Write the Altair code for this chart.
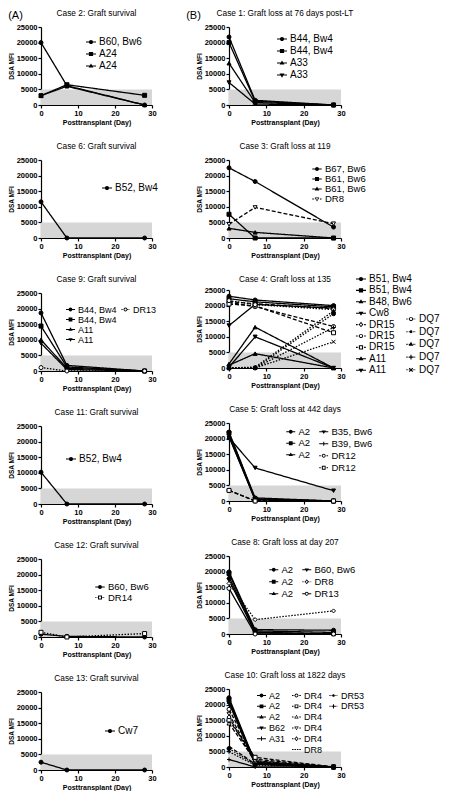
import json
import pandas as pd
import altair as alt

# ------------------------------------------------------------------ data
DAYS = [0, 7, 28]
X_DOMAIN = [0, 30]
Y_DOMAIN = [0, 25000]
X_TICKS = [0, 10, 20, 30]
Y_TICKS = [0, 5000, 10000, 15000, 20000, 25000]
BAND_MFI = [0, 5000]
X_TITLE = "Posttransplant (Day)"
Y_TITLE = "DSA MFI"
COLUMN_TITLES = ["(A)", "(B)"]

C2_TITLE = "Case 2: Graft survival"
C2_LABELS = ["B60, Bw6", "A24", "A24"]
C2_VALUES = [[20000, 6200, 0], [3000, 6500, 3100], [3000, 6000, 0]]

C6_TITLE = "Case 6:  Graft survival"
C6_LABELS = ["B52, Bw4"]
C6_VALUES = [[11600, 0, 0]]

C9_TITLE = "Case 9:  Graft survival"
C9_LABELS = ["B44, Bw4", "B44, Bw4", "A11", "A11", "DR13"]
C9_VALUES = [[18600, 1800, 0], [14400, 1300, 0], [10000, 900, 0], [8900, 500, 0], [1100, 0, 0]]

C11_TITLE = "Case 11: Graft survival"
C11_LABELS = ["B52, Bw4"]
C11_VALUES = [[10200, 0, 0]]

C12_TITLE = "Case 12: Graft survival"
C12_LABELS = ["B60, Bw6", "DR14"]
C12_VALUES = [[900, 200, 0], [1500, 0, 1100]]

C13_TITLE = "Case 13: Graft survival"
C13_LABELS = ["Cw7"]
C13_VALUES = [[2500, 0, 0]]

C1_TITLE = "Case 1: Graft loss at 76 days post-LT"
C1_LABELS = ["B44, Bw4", "B44, Bw4", "A33", "A33"]
C1_VALUES = [[21800, 1500, 0], [20000, 1200, 0], [13400, 800, 0], [7200, 300, 0]]

C3_TITLE = "Case 3:  Graft loss at 119"
C3_LABELS = ["B67, Bw6", "B61, Bw6", "B61, Bw6", "DR8"]
C3_VALUES = [[22500, 18100, 3500], [7600, 0, 0], [3100, 1800, 0], [4400, 9800, 4600]]

C4_TITLE = "Case 4:  Graft loss at 135"
C4_LABELS = ["B51, Bw4", "B51, Bw4", "B48, Bw6", "Cw8", "DR15", "DR15", "DR15",
             "A11", "A11", "DQ7", "DQ7", "DQ7", "DQ7", "DQ7"]
C4_VALUES = [[23000, 21800, 20000], [22200, 21200, 19600], [900, 4600, 0],
             [13600, 20400, 19200], [21300, 20600, 19000], [21000, 19700, 13300],
             [20500, 19900, 11300], [1300, 13100, 0], [300, 10000, 0],
             [21600, 20300, 18700], [0, 0, 17400], [0, 300, 18300], [0, 0, 13000],
             [0, 0, 8400]]

C5_TITLE = "Case 5:  Graft loss at 442 days"
C5_LABELS = ["A2", "A2", "A2", "B35, Bw6", "B39, Bw6", "DR12", "DR12"]
C5_VALUES = [[22100, 1000, 0], [21800, 700, 0], [20600, 500, 0], [20300, 10600, 3300],
             [20800, 300, 0], [3400, 0, 0], [3400, 0, 0]]

C8_TITLE = "Case 8:  Graft loss at day 207"
C8_LABELS = ["A2", "A2", "A2", "B60, Bw6", "DR8", "DR13"]
C8_VALUES = [[19900, 1400, 1200], [19400, 1000, 500], [18300, 600, 0], [17300, 400, 0],
             [16200, 4600, 7400], [14600, 0, 0]]

C10_TITLE = "Case 10:  Graft loss at 1822 days"
C10_LABELS = ["A2", "A2", "A2", "B62", "A31", "DR4", "DR4", "DR4", "DR4", "DR4",
              "DR8", "DR53", "DR53"]
C10_VALUES = [[22200, 1500, 0], [21600, 1200, 0], [21000, 1000, 0], [20500, 900, 0],
              [2400, 0, 0], [18500, 2500, 0], [15000, 3100, 0], [14000, 2000, 0],
              [17000, 1800, 0], [16000, 1400, 0], [6600, 1000, 0], [5900, 800, 0],
              [4900, 600, 0]]

# ------------------------------------------------------------------ styles
S = "solid"; D = "dashed"; O = "dotted"
STYLE = {
    "C2": (["circle", "square", "triangle-up"], [S, S, S]),
    "C6": (["circle"], [S]),
    "C9": (["circle", "square", "triangle-up", "triangle-down", "open-circle"], [S, S, S, S, O]),
    "C11": (["circle"], [S]),
    "C12": (["circle", "open-square"], [S, O]),
    "C13": (["circle"], [S]),
    "C1": (["circle", "square", "triangle-up", "triangle-down"], [S, S, S, S]),
    "C3": (["circle", "square", "triangle-up", "open-triangle-down"], [S, S, S, D]),
    "C4": (["circle", "square", "triangle-up", "triangle-down", "open-diamond", "open-circle",
            "open-square", "triangle-up", "triangle-down", "open-circle", "dot", "triangle-up",
            "plus", "x"], [S, S, S, S, D, D, D, S, S, O, O, O, O, O]),
    "C5": (["circle", "square", "triangle-up", "triangle-down", "plus", "open-circle",
            "open-square"], [S, S, S, S, S, D, D]),
    "C8": (["circle", "square", "triangle-up", "triangle-down", "open-diamond", "open-circle"],
           [S, S, S, S, O, S]),
    "C10": (["circle", "square", "triangle-up", "triangle-down", "plus", "open-circle",
             "open-square", "open-triangle-up", "open-triangle-down", "open-diamond", "none",
             "dot", "plus"], [S, S, S, S, S, D, D, D, D, D, D, O, O]),
}

# legend groups: (members, legendX, legendY, fontSize, symbolSize, rowPadding)
LEGENDS = {
    "C2": [([0, 1, 2], 45, 10, 10, 100, 2)],
    "C6": [([0], 61, 23, 10, 100, 2)],
    "C9": [([0, 1, 2, 3], 25, 12, 9, 81, 0), ([4], 80, 12, 9, 81, 0)],
    "C11": [([0], 25, 28, 10, 100, 2)],
    "C12": [([0, 1], 54, 23, 9.5, 90, 0.5)],
    "C13": [([0], 64, 34, 10, 100, 2)],
    "C1": [([0, 1, 2, 3], 48, 7, 10, 100, 2)],
    "C3": [([0, 1, 2, 3], 83, 4, 9.5, 90, 0)],
    "C4": [(list(range(9)), 127, -16, 10, 100, 1.4), (list(range(9, 14)), 177, 24, 10, 100, 2.7)],
    "C5": [([0, 1, 2], 57, 4, 9.5, 81, 0.5), ([3, 4, 5, 6], 90, 4, 9.5, 81, 1)],
    "C8": [([0, 1, 2], 40, 9, 9.5, 81, 1), ([3, 4, 5], 73, 9, 9.5, 81, 1)],
    "C10": [([0, 1, 2, 3, 4], 28, 2, 9, 81, 0.8), ([5, 6, 7, 8, 9, 10], 63, 2, 9, 81, 0.8),
            ([11, 12], 100, 2, 9, 81, 0.8)],
}
TITLE_OFFSET = {"C4": -9}

FONT = "Liberation Sans"
BAND_COLOR = "#d6d6d6"
DASH = {S: [1, 0], D: [4, 2], O: [1.5, 1.5]}
PT_SHAPE = {"circle": "circle", "dot": "circle", "square": "square",
            "triangle-up": "triangle-up", "triangle-down": "triangle-down",
            "diamond": "diamond", "plus": "M-1,0H1M0,-1V1", "x": "M-1,-1L1,1M-1,1L1,-1",
            "open-circle": "circle", "open-square": "square", "open-diamond": "diamond",
            "open-triangle-up": "triangle-up", "open-triangle-down": "triangle-down",
            "none": "circle"}

# ------------------------------------------------------------------ legend symbol paths
R = 0.42
T = 0.11


def fmt(v):
    s = f"{v:.3f}".rstrip("0").rstrip(".")
    return s if s not in ("-0", "") else "0"


def poly(pts, clockwise=True):
    area = sum(x1 * y2 - x2 * y1 for (x1, y1), (x2, y2) in zip(pts, pts[1:] + pts[:1]))
    if (area > 0) != clockwise:
        pts = pts[::-1]
    return "M" + "L".join(f"{fmt(x)},{fmt(y)}" for x, y in pts) + "Z"


def rect(x0, x1, y0, y1):
    return [(x0, y0), (x1, y0), (x1, y1), (x0, y1)]


def circ(r, clockwise=True):
    s = 1 if clockwise else 0
    return (f"M0,{fmt(-r)}A{fmt(r)},{fmt(r)} 0 1,{s} 0,{fmt(r)}"
            f"A{fmt(r)},{fmt(r)} 0 1,{s} 0,{fmt(-r)}Z")


def shape_pts(kind, r):
    if kind == "square":
        return rect(-r, r, -r, r)
    if kind == "diamond":
        return [(0, -1.3 * r), (1.05 * r, 0), (0, 1.3 * r), (-1.05 * r, 0)]
    if kind == "triangle-up":
        return [(0, -1.25 * r), (1.15 * r, 0.7 * r), (-1.15 * r, 0.7 * r)]
    return [(-1.15 * r, -0.7 * r), (1.15 * r, -0.7 * r), (0, 1.25 * r)]


def marker_path(m):
    if m == "none":
        return "", 0
    is_open = m.startswith("open-")
    kind = m[5:] if is_open else m
    if kind in ("circle", "dot"):
        r = R if kind == "circle" else R * 0.7
        p = circ(r)
        if is_open:
            p += circ(r * 0.55, False)
        return p, (r * 0.9 if is_open else 0)
    if kind == "plus":
        L = R * 1.1
        return poly(rect(-L, L, -T, T)) + poly(rect(-T, T, -L, L)), 0
    if kind == "x":
        c = 0.7071
        L = R * 1.2
        out = ""
        for sg in (1, -1):
            d = (c, sg * c)
            n = (-sg * c, c)
            pts = [(d[0] * L + n[0] * T, d[1] * L + n[1] * T),
                   (d[0] * L - n[0] * T, d[1] * L - n[1] * T),
                   (-d[0] * L - n[0] * T, -d[1] * L - n[1] * T),
                   (-d[0] * L + n[0] * T, -d[1] * L + n[1] * T)]
            out += poly(pts)
        return out, 0
    pts = shape_pts(kind, R)
    p = poly(pts)
    gap = 0
    if is_open:
        p += poly([(x * 0.5, y * 0.5) for x, y in pts], clockwise=False)
        gap = max(abs(x) for x, _ in pts) * 0.8
    return p, gap


DASH_UNITS = {D: (0.34, 0.2), O: (0.13, 0.15)}


def legend_path(m, dash):
    mp, gap = marker_path(m)
    if dash == S:
        raw = [(-1.0, 1.0)]
    else:
        on, off = DASH_UNITS[dash]
        raw, x = [], -1.0
        while x < 1.0:
            raw.append((x, min(x + on, 1.0)))
            x += on + off
    segs = ""
    for a, b in raw:
        for lo, hi in ((a, min(b, -gap)), (max(a, gap), b)):
            if hi - lo > 0.02:
                segs += poly(rect(lo, hi, -T, T))
    return segs + mp


# ------------------------------------------------------------------ panels
def panel(key, title, labels, values, width, height):
    markers, dashes = STYLE[key]
    ids = [str(i) for i in range(len(labels))]
    df = pd.DataFrame([{"sid": ids[i], "day": d, "mfi": v}
                       for i, vals in enumerate(values) for d, v in zip(DAYS, vals)])
    band_df = pd.DataFrame({"x0": [X_DOMAIN[0]], "x1": [X_DOMAIN[1]],
                            "y0": [BAND_MFI[0]], "y1": [BAND_MFI[1]]})
    xs = alt.Scale(domain=X_DOMAIN, nice=False, zero=False)
    ys = alt.Scale(domain=Y_DOMAIN, nice=False)
    xax = alt.Axis(title=X_TITLE, values=X_TICKS, format="d")
    yax = alt.Axis(title=Y_TITLE, values=Y_TICKS, format="d")
    X = alt.X("day:Q", scale=xs, axis=xax)
    Y = alt.Y("mfi:Q", scale=ys, axis=yax)

    band = alt.Chart(band_df).mark_rect(color=BAND_COLOR).encode(
        x=alt.X("x0:Q", scale=xs, axis=xax), x2="x1:Q",
        y=alt.Y("y0:Q", scale=ys, axis=yax), y2="y1:Q")

    lines = alt.Chart(df).mark_line(color="black", strokeWidth=1.3).encode(
        x=X, y=Y,
        strokeDash=alt.StrokeDash("sid:N", scale=alt.Scale(domain=ids, range=[DASH[d] for d in dashes]),
                                  legend=None))

    pt_ids = [ids[i] for i, m in enumerate(markers) if m != "none"]
    points = alt.Chart(df[df["sid"].isin(pt_ids)]).mark_point(
        color="black", strokeWidth=1, size=16, opacity=1).encode(
        x=X, y=Y,
        shape=alt.Shape("sid:N", scale=alt.Scale(domain=ids, range=[PT_SHAPE[m] for m in markers]),
                        legend=None),
        fill=alt.Fill("sid:N", scale=alt.Scale(domain=ids, range=[
            "white" if m.startswith("open-") else "black" for m in markers]), legend=None))

    label_expr = json.dumps(labels) + "[toNumber(datum.value)]"
    legs = []
    for members, lx, ly, fs, ss, rp in LEGENDS[key]:
        gids = [ids[i] for i in members]
        legs.append(
            alt.Chart(df).transform_filter("datum.day < 0").mark_point(
                filled=True, color="black", opacity=1).encode(
                x=X, y=Y,
                shape=alt.Shape("sid:N", scale=alt.Scale(
                    domain=gids, range=[legend_path(markers[i], dashes[i]) for i in members]),
                    legend=alt.Legend(orient="none", legendX=lx, legendY=ly, title=None,
                                      labelExpr=label_expr, labelFont=FONT, labelFontSize=fs,
                                      labelColor="black", symbolSize=ss, symbolStrokeWidth=0,
                                      symbolOpacity=1, symbolFillColor="black",
                                      rowPadding=rp, labelOffset=3, padding=0,
                                      symbolOffset=0, labelLimit=200))))

    return alt.layer(band, lines, points, *legs).resolve_scale(
        shape="independent", fill="independent", strokeDash="independent"
    ).properties(width=width, height=height,
                 title=alt.TitleParams(text=title, font=FONT, fontSize=8.3, fontWeight="normal",
                                       color="black", anchor="middle",
                                       offset=TITLE_OFFSET.get(key, 6), frame="group"))


WL, WR, H = 111, 112, 78
left = [panel("C2", C2_TITLE, C2_LABELS, C2_VALUES, WL, H),
        panel("C6", C6_TITLE, C6_LABELS, C6_VALUES, WL, H),
        panel("C9", C9_TITLE, C9_LABELS, C9_VALUES, WL, H),
        panel("C11", C11_TITLE, C11_LABELS, C11_VALUES, WL, H),
        panel("C12", C12_TITLE, C12_LABELS, C12_VALUES, WL, H),
        panel("C13", C13_TITLE, C13_LABELS, C13_VALUES, WL, H)]
right = [panel("C1", C1_TITLE, C1_LABELS, C1_VALUES, WR, H),
         panel("C3", C3_TITLE, C3_LABELS, C3_VALUES, WR, H),
         panel("C4", C4_TITLE, C4_LABELS, C4_VALUES, WR, H),
         panel("C5", C5_TITLE, C5_LABELS, C5_VALUES, WR, H),
         panel("C8", C8_TITLE, C8_LABELS, C8_VALUES, WR, H),
         panel("C10", C10_TITLE, C10_LABELS, C10_VALUES, WR, H)]

colA = alt.vconcat(*left, spacing=15).properties(
    title=alt.TitleParams(text=COLUMN_TITLES[0], anchor="start", frame="bounds", offset=-12,
                          fontSize=11, font=FONT, fontWeight="normal", color="black"))
colB = alt.vconcat(*right, spacing=15).properties(
    title=alt.TitleParams(text=COLUMN_TITLES[1], anchor="start", frame="bounds", offset=-12,
                          dx=-10, fontSize=11, font=FONT, fontWeight="normal", color="black"))

chart = alt.hconcat(colA, colB, spacing=28).properties(padding=0, background="white").configure_view(
    stroke=None
).configure_axis(
    domainColor="black", domainWidth=1.2, tickColor="black", tickWidth=1.2, tickSize=3,
    labelColor="black", labelFont=FONT, labelFontSize=7.5, labelFontWeight="bold",
    labelPadding=1, labelFlush=False, titleColor="black", titleFont=FONT,
    titleFontWeight="bold", titleFontSize=7, titlePadding=2, grid=False
).configure_axisY(titleFontSize=6.5, titleFont=FONT, titlePadding=2)

chart.save("out.html", embed_options={"renderer": "svg", "actions": False})
